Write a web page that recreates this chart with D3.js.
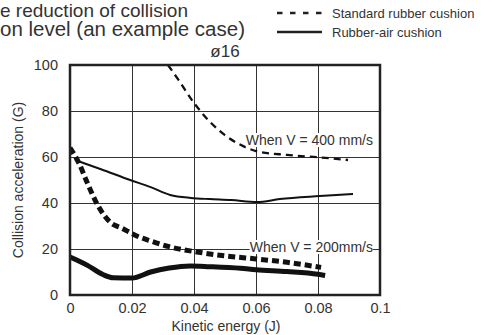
<!DOCTYPE html>
<html>
<head>
<meta charset="utf-8">
<script src="https://cdn.jsdelivr.net/npm/d3@7/dist/d3.min.js"></script>
<style>
  html, body { margin: 0; padding: 0; background: #fff; }
  svg { display: block; font-family: "Liberation Sans", Arial, sans-serif; }
</style>
</head>
<body>
<svg id="chart" width="493" height="335"></svg>
<script>
// --- DATA ---
const xTicks = [0, 0.02, 0.04, 0.06, 0.08, 0.1];
const xTickLabels = ["0", "0.02", "0.04", "0.06", "0.08", "0.1"];
const yTicks = [0, 20, 40, 60, 80, 100];

// Standard rubber cushion, V = 400 mm/s (thin dashed)
const std400Energy = [0.0316, 0.035, 0.04, 0.045, 0.05, 0.055, 0.06, 0.07, 0.08, 0.0897];
const std400Accel  = [100, 93.5, 83.5, 75.5, 69.5, 65.3, 62.6, 60.9, 59.9, 58.7];

// Rubber-air cushion, V = 400 mm/s (thin solid)
const air400Energy = [0.0016, 0.01, 0.0194, 0.0258, 0.0323, 0.039, 0.045, 0.052, 0.0603, 0.0677, 0.0806, 0.0913];
const air400Accel  = [58.7, 54.7, 50, 47, 43.5, 42.2, 41.7, 41.3, 40.4, 41.7, 43, 43.9];

// Standard rubber cushion, V = 200 mm/s (thick dashed)
const std200Energy = [0, 0.003, 0.0055, 0.008, 0.0103, 0.0129, 0.0168, 0.021, 0.026, 0.032, 0.041, 0.05, 0.06, 0.07, 0.081];
const std200Accel  = [64, 57, 49, 41.5, 36, 31.7, 29, 26, 23.5, 21, 18.7, 17, 15.7, 14.2, 12];

// Rubber-air cushion, V = 200 mm/s (thick solid)
const air200Energy = [0, 0.0055, 0.0106, 0.0139, 0.02, 0.026, 0.032, 0.0387, 0.045, 0.055, 0.06, 0.07, 0.08, 0.0823];
const air200Accel  = [16.5, 13, 8.9, 7.5, 7.4, 10, 11.7, 12.6, 12.3, 11.6, 11, 10.2, 9, 8.5];

// --- SETUP ---
const svg = d3.select("#chart");
const ink = "#222";
const plot = {left: 70, top: 65, right: 380, bottom: 295};

const x = d3.scaleLinear().domain([0, 0.1]).range([plot.left, plot.right]);
const y = d3.scaleLinear().domain([0, 100]).range([plot.bottom, plot.top]);

// title (only the visible part of the cropped source title)
svg.append("text").attr("x", 0).attr("y", 17.3)
  .attr("font-size", 19).attr("fill", "#333").text("e reduction of collision");
svg.append("text").attr("x", 0).attr("y", 36)
  .attr("font-size", 20.5).attr("fill", "#333").text("on level (an example case)");

// legend
const legend = svg.append("g");
legend.append("line").attr("x1", 277).attr("x2", 322).attr("y1", 13).attr("y2", 13)
  .attr("stroke", ink).attr("stroke-width", 2.6).attr("stroke-dasharray", "5.5,7.5");
legend.append("text").attr("x", 332).attr("y", 18).attr("font-size", 13).attr("fill", "#333")
  .text("Standard rubber cushion");
legend.append("line").attr("x1", 277).attr("x2", 322).attr("y1", 32).attr("y2", 32)
  .attr("stroke", ink).attr("stroke-width", 2.3);
legend.append("text").attr("x", 332).attr("y", 37).attr("font-size", 13).attr("fill", "#333")
  .text("Rubber-air cushion");

// ø16 sub-title
svg.append("text").attr("x", x(0.05)).attr("y", 57).attr("text-anchor", "middle")
  .attr("font-size", 17).attr("fill", "#333").text("ø16");

// --- AXES & GRID ---
const yAxis = svg.append("g").attr("transform", `translate(${plot.left},0)`)
  .call(d3.axisLeft(y).tickValues(yTicks).tickSize(-(plot.right - plot.left)).tickPadding(12).tickFormat(d3.format("d")));
const xAxis = svg.append("g").attr("transform", `translate(0,${plot.bottom})`)
  .call(d3.axisBottom(x).tickValues(xTicks).tickSize(-(plot.bottom - plot.top)).tickPadding(8)
    .tickFormat((d, i) => xTickLabels[i]));

[xAxis, yAxis].forEach(a => {
  a.select(".domain").remove();
  a.selectAll(".tick line").attr("stroke", "#333").attr("stroke-width", 1);
  a.selectAll(".tick text").attr("font-size", 14.5).attr("fill", "#333")
    .style("font-family", "'Liberation Sans', Arial, sans-serif");
});

svg.append("text").attr("x", 226).attr("y", 331).attr("text-anchor", "middle")
  .attr("font-size", 14).attr("fill", "#333").text("Kinetic energy (J)");
svg.append("text").attr("transform", `translate(23,${(plot.top + plot.bottom) / 2}) rotate(-90)`)
  .attr("text-anchor", "middle").attr("font-size", 14).attr("fill", "#333")
  .text("Collision acceleration (G)");

// --- CURVES ---
svg.append("clipPath").attr("id", "plot-clip").append("rect")
  .attr("x", plot.left).attr("y", plot.top)
  .attr("width", plot.right - plot.left).attr("height", plot.bottom - plot.top);

const line = d3.line().x(d => x(d[0])).y(d => y(d[1])).curve(d3.curveMonotoneX);
const curves = svg.append("g").attr("clip-path", "url(#plot-clip)");

function drawCurve(energy, accel, width, dash) {
  const pts = energy.map((e, i) => [e, accel[i]]);
  curves.append("path").datum(pts)
    .attr("d", line)
    .attr("fill", "none")
    .attr("stroke", "#111")
    .attr("stroke-width", width)
    .attr("stroke-dasharray", dash)
    .attr("stroke-linecap", "butt");
}

drawCurve(air400Energy, air400Accel, 2, null);
drawCurve(std400Energy, std400Accel, 2.3, "7,5");
drawCurve(air200Energy, air200Accel, 5, null);
drawCurve(std200Energy, std200Accel, 5, "7,4");

// --- ANNOTATIONS (white box hides grid and curve behind) ---
function annotate(label, xEnd, yBase) {
  const g = svg.append("g");
  const rect = g.append("rect").attr("fill", "#fff");
  const t = g.append("text").attr("x", xEnd).attr("y", yBase).attr("text-anchor", "end")
    .attr("font-size", 14).attr("fill", "#333").text(label);
  const b = t.node().getBBox();
  rect.attr("x", b.x).attr("y", b.y + 1).attr("width", b.width).attr("height", b.height - 2);
}
annotate("When V = 400 mm/s", x(0.1) - 7, y(65.2));
annotate("When V = 200mm/s", x(0.1) - 7, y(18.7));

// plot frame
svg.append("rect")
  .attr("x", plot.left).attr("y", plot.top)
  .attr("width", plot.right - plot.left).attr("height", plot.bottom - plot.top)
  .attr("fill", "none").attr("stroke", ink).attr("stroke-width", 2.5);
</script>
</body>
</html>
